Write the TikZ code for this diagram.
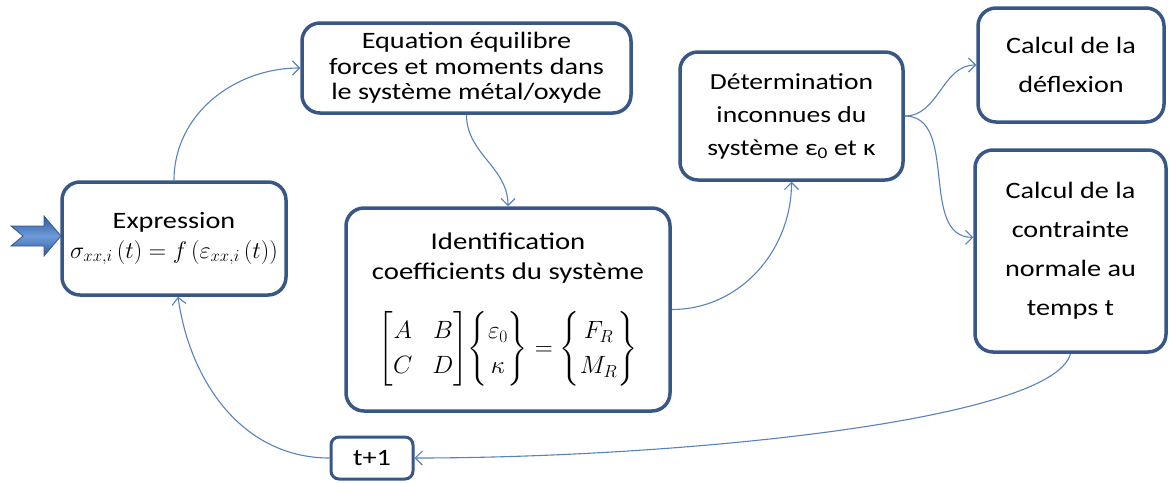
\RequirePackage{fix-cm}
\documentclass[tikz,border=0pt]{standalone}
\usepackage{amsmath}
\usepackage{graphicx}
\usepackage{fontspec}
\setmainfont{Carlito}[FakeStretch=1.2]
\usetikzlibrary{arrows.meta}

\definecolor{framecol}{RGB}{56,87,135}
\definecolor{linkcol}{RGB}{88,130,188}
\definecolor{arrowlight}{RGB}{110,155,215}
\definecolor{arrowdark}{RGB}{45,90,160}

\tikzset{
  stage/.style={draw=framecol, line width=3.5pt, rounded corners=18pt, fill=white,
    align=center, inner sep=0pt, font=\fontsize{23.5}{26}\selectfont},
  link/.style={draw=linkcol, line width=1.1pt, -{Straight Barb[length=7pt,width=14pt]}},
}

\begin{document}
\begin{tikzpicture}[x=1pt,y=1pt]
    \useasboundingbox (0,0) rectangle (1169,-482);

    % boxes
    \node[stage, minimum width=224pt, minimum height=113pt] (expr) at (174,-238.5)
        {Expression\\[4pt] {\fontsize{24}{28}\selectfont$\sigma_{xx,i}\left(t\right)=f\left(\varepsilon_{xx,i}\left(t\right)\right)$}};
    \node[stage, minimum width=329pt, minimum height=90pt, font=\fontsize{23.5}{25.5}\selectfont] (eq) at (466.5,-68)
        {Equation équilibre\\ forces et moments dans\\ le système métal/oxyde};
    \node[stage, minimum width=324pt, minimum height=203pt, font=\fontsize{24}{30}\selectfont] (ident) at (508,-309.5)
        {Identification\\ coefficients du système\\[28pt]
        {\fontsize{25}{30}\selectfont\renewcommand{\arraystretch}{1.15}\setlength{\arraycolsep}{10pt}%
        $\begin{bmatrix}A & B\\ C & D\end{bmatrix}\!\begin{Bmatrix}\varepsilon_0\\ \kappa\end{Bmatrix}=\begin{Bmatrix}F_R\\ M_R\end{Bmatrix}$}};
    \node[stage, minimum width=223pt, minimum height=128pt, font=\fontsize{23}{33}\selectfont] (determ) at (791.5,-116)
        {Détermination\\ inconnues du\\ système ε\textsubscript{0} et κ};
    \node[stage, minimum width=186pt, minimum height=114pt, font=\fontsize{23.5}{39}\selectfont] (defl) at (1071,-65)
        {Calcul de la\\ déflexion};
    \node[stage, minimum width=191pt, minimum height=202pt,
        font=\fontsize{23.5}{39}\selectfont] (contr) at (1070.5,-251)
        {Calcul de la\\ contrainte\\ normale au\\ temps t};
    \node[stage, line width=3pt, rounded corners=8pt, minimum width=82pt,
        minimum height=42pt] (tnext) at (372,-458) {t+1};

    % entry arrow
    \draw[framecol, line width=0.8pt, top color=arrowdark, bottom color=arrowdark, middle color=arrowlight]
        (11,-226) -- (44,-226) -- (44,-216) -- (61,-236) -- (44,-256) -- (44,-246)
        -- (11,-246) -- (23,-236) -- cycle;

    % connectors
    \draw[link] (expr.north) to[out=90,in=180] (eq.west);
    \draw[link] (eq.south) to[out=-90,in=90] (ident.north);
    \draw[link] (ident.east) to[out=0,in=-90] (determ.south);
    \draw[link] (determ.east) to[out=0,in=180] (defl.west);
    \draw[link] (determ.east) to[out=0,in=180] (contr.172);
    \draw[link] (contr.south) .. controls +(-105:70) and +(260,0) .. (tnext.east);
    \draw[link] (tnext.west) to[out=180,in=-82] ([xshift=4pt]expr.south);
\end{tikzpicture}
\end{document}
